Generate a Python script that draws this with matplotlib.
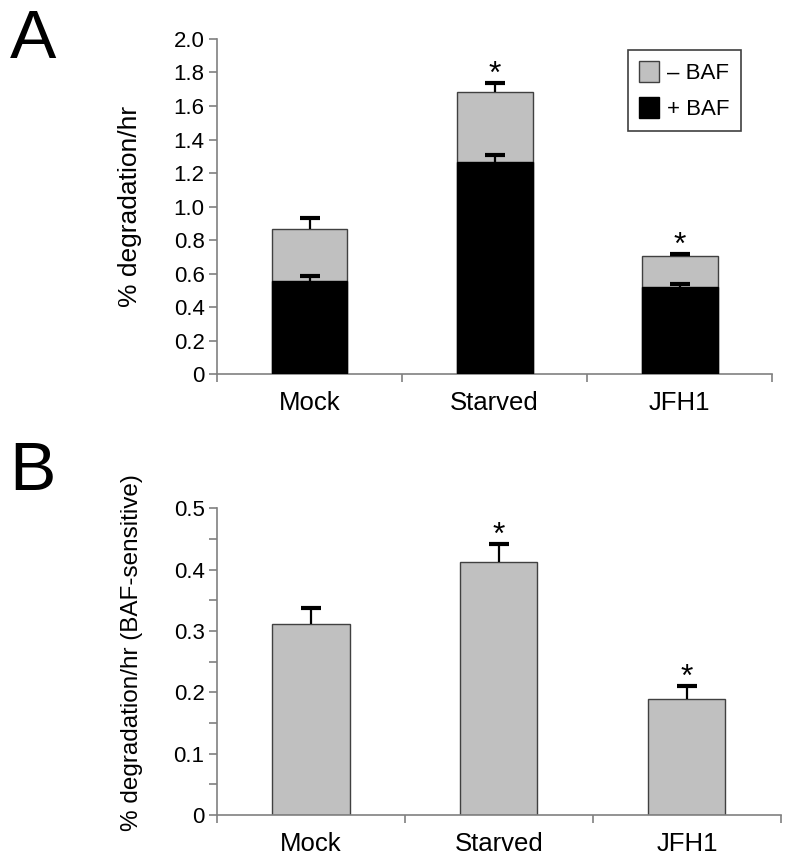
#!/usr/bin/env python3
"""Autophagic protein degradation: stacked +/- BAF (A) and BAF-sensitive fraction (B)."""
import matplotlib
matplotlib.use("Agg")
import matplotlib.pyplot as plt
import numpy as np

plt.rcParams["font.family"] = ["Liberation Sans", "DejaVu Sans"]

categories = ["Mock", "Starved", "JFH1"]

# panel A: total degradation (- BAF) and the BAF-resistant part (+ BAF)
minus_baf = [0.864, 1.681, 0.703]
minus_baf_err = [0.070, 0.056, 0.012]
plus_baf = [0.553, 1.265, 0.519]
plus_baf_err = [0.030, 0.044, 0.018]
starred_a = [False, True, True]

# panel B: BAF-sensitive degradation
sensitive = [0.311, 0.412, 0.189]
sensitive_err = [0.026, 0.030, 0.022]
starred_b = [False, True, True]

GREY = "#c0c0c0"
AXC = "#808080"


def style_axes(ax, ymax, major, minor=None):
    for s in ("top", "right"):
        ax.spines[s].set_visible(False)
    for s in ("left", "bottom"):
        ax.spines[s].set_color(AXC)
        ax.spines[s].set_linewidth(1.2)
    ax.set_xlim(-0.5, len(categories) - 0.5)
    ax.set_ylim(0, ymax)
    ax.set_yticks(np.arange(0, ymax + 1e-9, major))
    if minor:
        ax.set_yticks(np.arange(0, ymax + 1e-9, minor), minor=True)
    # category separators as outward ticks, labels centred between them
    ax.set_xticks(np.arange(-0.5, len(categories)), minor=False)
    ax.set_xticklabels([])
    ax.set_xticks(np.arange(len(categories)), minor=True)
    ax.set_xticklabels(categories, minor=True, fontsize=18.5)
    ax.tick_params(axis="x", which="major", direction="out", length=6, color=AXC, width=1.2)
    ax.tick_params(axis="x", which="minor", length=0, pad=12)
    ax.tick_params(axis="y", which="both", direction="out", length=6, color=AXC, width=1.2,
                   labelsize=16, pad=3)


def error_up(ax, x, y, err):
    # upper-only error bars: stem plus a heavy cap
    tops = np.asarray(y) + np.asarray(err)
    ax.vlines(x, y, tops, color="black", lw=1.6, zorder=5)
    ax.plot(x, tops, ls="none", marker="_", ms=15, mew=3, color="black", zorder=5)


def stars(ax, x, y, err, flags):
    for xi, top, e, s in zip(x, y, err, flags):
        if s:
            ax.annotate("*", xy=(xi, top + e), xytext=(0, -5), textcoords="offset points",
                        ha="center", va="bottom", fontsize=23)


fig = plt.figure(figsize=(7.92, 8.66), dpi=100)
x = np.arange(len(categories))
W = 0.41

# ---- A ---------------------------------------------------------------------
axA = fig.add_axes([0.274, 0.568, 0.701, 0.387])
axA.bar(x, minus_baf, W, color=GREY, edgecolor="#404040", lw=1, zorder=2, label="– BAF")
axA.bar(x, plus_baf, W, color="black", edgecolor="black", lw=1, zorder=3, label="+ BAF")
error_up(axA, x, minus_baf, minus_baf_err)
error_up(axA, x, plus_baf, plus_baf_err)
stars(axA, x, minus_baf, minus_baf_err, starred_a)
style_axes(axA, 2.0, 0.2)
axA.set_yticklabels(["0"] + [f"{v:.1f}" for v in np.arange(0.2, 2.01, 0.2)])
axA.set_ylabel("% degradation/hr", fontsize=19)
axA.yaxis.set_label_coords(-0.135, 0.5)
leg = axA.legend(loc="upper left", bbox_to_anchor=(628 / 792, 1 - 50 / 866),
                 bbox_transform=fig.transFigure, fontsize=16, frameon=True, fancybox=False,
                 edgecolor="#404040", framealpha=1, handlelength=0.9, handleheight=1.1,
                 borderpad=0.5, labelspacing=0.55, handletextpad=0.35, borderaxespad=0)
leg.get_frame().set_linewidth(1.2)
fig.text(0.012, 0.933, "A", fontsize=50, va="baseline")

# ---- B ---------------------------------------------------------------------
axB = fig.add_axes([0.274, 0.059, 0.712, 0.354])
axB.bar(x, sensitive, W, color=GREY, edgecolor="#404040", lw=1, zorder=2)
error_up(axB, x, sensitive, sensitive_err)
stars(axB, x, sensitive, sensitive_err, starred_b)
style_axes(axB, 0.5, 0.1, minor=0.05)
axB.set_yticklabels(["0"] + [f"{v:.1f}" for v in np.arange(0.1, 0.51, 0.1)])
axB.set_ylabel("% degradation/hr (BAF-sensitive)", fontsize=17.5)
axB.yaxis.set_label_coords(-0.131, 0.53)
fig.text(0.012, 0.434, "B", fontsize=50, va="baseline")

fig.savefig("out.png", dpi=100)
